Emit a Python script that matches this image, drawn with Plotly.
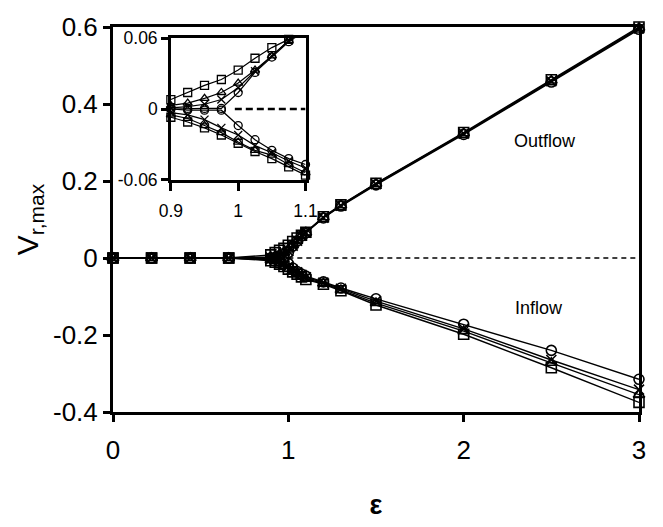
import plotly.graph_objects as go

# ---------------- data ----------------
EPS = [0, 0.22, 0.44, 0.66, 0.9, 0.925, 0.95, 0.975, 1.0, 1.025, 1.05, 1.075, 1.1,
       1.2, 1.3, 1.5, 2.0, 2.5, 3.0]

OUT_SQUARE = [0, 0, 0, 0, 0.008, 0.014, 0.020, 0.025, 0.033, 0.043, 0.052, 0.059, 0.067,
              0.107, 0.138, 0.194, 0.326, 0.463, 0.600]
OUT_TRIANGLE = [0, 0, 0, 0, 0.003, 0.005, 0.009, 0.014, 0.022, 0.033, 0.045, 0.058, 0.066,
                0.106, 0.137, 0.193, 0.324, 0.461, 0.598]
OUT_CIRCLE = [0, 0, 0, 0, 0.0, 0.0005, 0.0005, 0.0005, 0.014, 0.031, 0.044, 0.057, 0.066,
              0.104, 0.135, 0.190, 0.321, 0.457, 0.594]
OUT_CROSS = [0, 0, 0, 0, 0.001, 0.002, 0.004, 0.008, 0.018, 0.032, 0.045, 0.058, 0.066,
             0.105, 0.136, 0.192, 0.323, 0.459, 0.596]

IN_SQUARE = [0, 0, 0, 0, -0.007, -0.011, -0.016, -0.022, -0.029, -0.036, -0.042, -0.049, -0.056,
             -0.068, -0.085, -0.122, -0.198, -0.285, -0.375]
IN_TRIANGLE = [0, 0, 0, 0, -0.005, -0.008, -0.014, -0.020, -0.028, -0.035, -0.039, -0.047, -0.054,
               -0.066, -0.083, -0.117, -0.190, -0.272, -0.355]
IN_CIRCLE = [0, 0, 0, 0, 0.0, -0.001, -0.001, -0.001, -0.014, -0.026, -0.035, -0.042, -0.047,
             -0.062, -0.078, -0.106, -0.172, -0.240, -0.315]
IN_CROSS = [0, 0, 0, 0, -0.003, -0.005, -0.009, -0.016, -0.022, -0.031, -0.037, -0.044, -0.050,
            -0.064, -0.080, -0.112, -0.184, -0.265, -0.342]

MAIN_X_TICKS = [0, 1, 2, 3]
MAIN_X_TEXT = ["0", "1", "2", "3"]
MAIN_Y_TICKS = [0.6, 0.4, 0.2, 0, -0.2, -0.4]
MAIN_Y_TEXT = ["0.6", "0.4", "0.2", "0", "-0.2", "-0.4"]
INSET_X_TICKS = [0.9, 1.0, 1.1]
INSET_X_TEXT = ["0.9", "1", "1.1"]
INSET_Y_TICKS = [0.06, 0, -0.06]
INSET_Y_TEXT = ["0.06", "0", "-0.06"]

INSET_LO, INSET_HI = 4, 13  # slice of EPS shown in the inset (0.9 .. 1.1)

FONT = "Arial, Liberation Sans, sans-serif"

series = [
    ("square-open", OUT_SQUARE, IN_SQUARE),
    ("triangle-up-open", OUT_TRIANGLE, IN_TRIANGLE),
    ("circle-open", OUT_CIRCLE, IN_CIRCLE),
    ("x-thin-open", OUT_CROSS, IN_CROSS),
]

fig = go.Figure()

for sym, out_v, in_v in series:
    for vals in (out_v, in_v):
        fig.add_trace(go.Scatter(
            x=EPS, y=vals, mode="lines+markers",
            line=dict(color="black", width=1.4),
            marker=dict(symbol=sym, size=10, color="black",
                        line=dict(color="black", width=1.6)),
            cliponaxis=False, showlegend=False,
            xaxis="x", yaxis="y"))
        fig.add_trace(go.Scatter(
            x=EPS[INSET_LO:INSET_HI], y=vals[INSET_LO:INSET_HI], mode="lines+markers",
            line=dict(color="black", width=1.2),
            marker=dict(symbol=sym, size=8, color="black",
                        line=dict(color="black", width=1.3)),
            cliponaxis=False, showlegend=False,
            xaxis="x2", yaxis="y2"))

# zero reference (dashed) lines
fig.add_shape(type="line", xref="x", yref="y", x0=1.0, x1=3.0, y0=0, y1=0,
              line=dict(color="black", width=1.4, dash="5px,4px"))
fig.add_shape(type="line", xref="x2", yref="y2", x0=0.995, x1=1.1, y0=0, y1=0,
              line=dict(color="black", width=2.5, dash="7px,4px"))

fig.add_annotation(x=2.275, y=0.304, xref="x", yref="y", text="Outflow",
                   showarrow=False, xanchor="left", yanchor="middle",
                   font=dict(family=FONT, size=18, color="black"))
fig.add_annotation(x=2.28, y=-0.129, xref="x", yref="y", text="Inflow",
                   showarrow=False, xanchor="left", yanchor="middle",
                   font=dict(family=FONT, size=18, color="black"))

fig.update_layout(
    width=663, height=527,
    margin=dict(l=113, r=14, t=21, b=98),
    paper_bgcolor="white", plot_bgcolor="white",
    font=dict(family=FONT, color="black"),
    xaxis=dict(
        range=[0, 3], domain=[0, 1],
        tickvals=MAIN_X_TICKS, ticktext=MAIN_X_TEXT,
        ticks="outside", ticklen=7, tickwidth=3, tickcolor="black",
        showline=True, linewidth=3, linecolor="black", mirror=True,
        showgrid=False, zeroline=False,
        tickfont=dict(family=FONT, size=26),
        ticklabelstandoff=6,
        title=dict(text="<b>ε</b>", font=dict(family=FONT, size=27), standoff=31),
    ),
    yaxis=dict(
        range=[-0.4, 0.6], domain=[0, 1],
        tickvals=MAIN_Y_TICKS, ticktext=MAIN_Y_TEXT,
        ticks="outside", ticklen=7, tickwidth=3, tickcolor="black",
        showline=True, linewidth=3, linecolor="black", mirror=True,
        showgrid=False, zeroline=False,
        tickfont=dict(family=FONT, size=26),
        title=dict(text="V<sub>r,max</sub>", font=dict(family=FONT, size=30), standoff=6),
    ),
    xaxis2=dict(
        range=[0.9, 1.1], domain=[0.110, 0.366], anchor="y2",
        tickvals=INSET_X_TICKS, ticktext=INSET_X_TEXT,
        ticks="outside", ticklen=8, tickwidth=2.5, tickcolor="black",
        showline=True, linewidth=2.5, linecolor="black", mirror=True,
        showgrid=False, zeroline=False,
        tickfont=dict(family=FONT, size=17.5),
        ticklabelstandoff=5,
    ),
    yaxis2=dict(
        range=[-0.06, 0.06], domain=[0.603, 0.971], anchor="x2",
        tickvals=INSET_Y_TICKS, ticktext=INSET_Y_TEXT,
        ticks="outside", ticklen=7, tickwidth=2.5, tickcolor="black",
        showline=True, linewidth=2.5, linecolor="black", mirror=True,
        showgrid=False, zeroline=False,
        tickfont=dict(family=FONT, size=17.5),
    ),
)

fig.write_html("out.html")
